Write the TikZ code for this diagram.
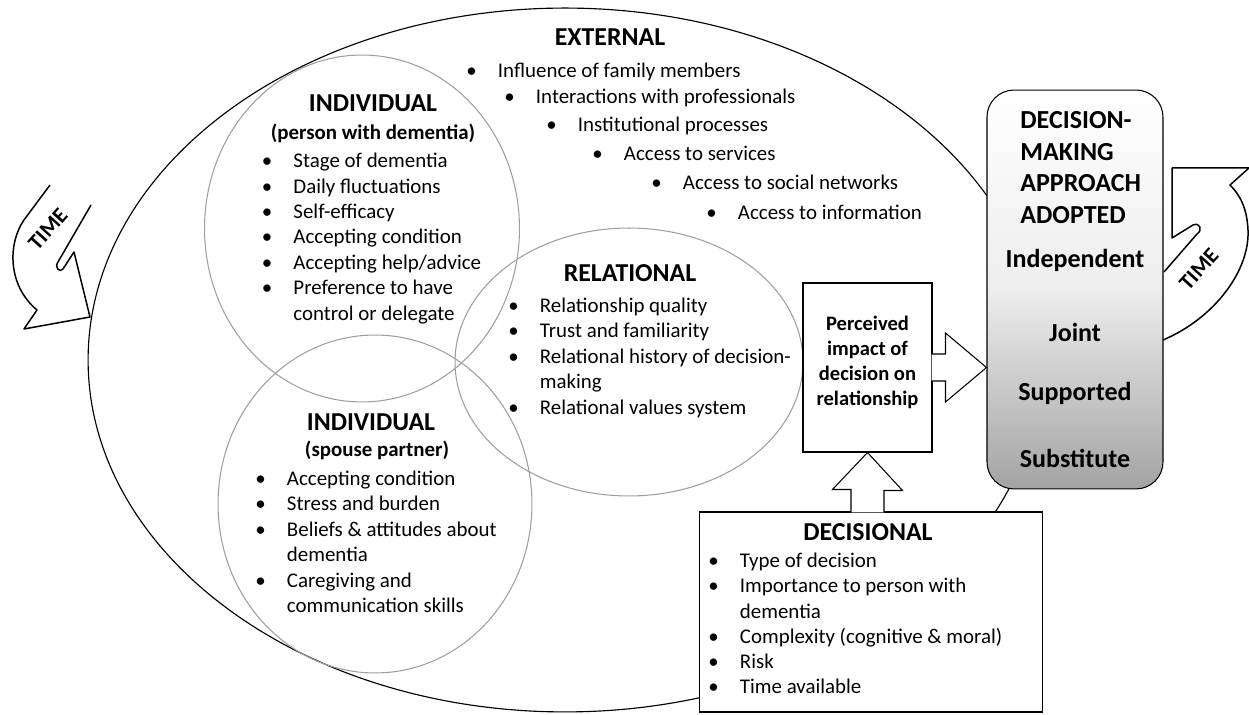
\documentclass[tikz,border=0pt]{standalone}
\usepackage{fontspec}
\setmainfont{Carlito}
\usetikzlibrary{shapes.geometric, calc, positioning}

\newcommand{\lstfont}{\fontsize{11.9}{14.5}\selectfont}
\newcommand{\headfont}{\fontsize{14.7}{17}\selectfont\bfseries}
\newcommand{\subfont}{\fontsize{11.9}{14.5}\selectfont\bfseries}
\newcommand{\bl}{\makebox[18pt][l]{\textbullet}}
\newcommand{\nb}{\hspace*{18pt}}

\tikzset{
  ring/.style={draw=black!38, line width=0.6pt, ellipse, inner sep=0pt},
  head/.style={font=\headfont, inner sep=0pt},
  sub/.style={font=\subfont, inner sep=0pt},
  lst/.style={font=\lstfont, align=left, inner sep=0pt, anchor=west},
  box/.style={draw, line width=0.6pt, fill=white, inner sep=0pt},
  blockarrow/.style={draw, line width=0.6pt, fill=white},
  timearrow/.style={draw, line width=0.85pt, line join=round},
  timetxt/.style={font=\fontsize{12.5}{14}\selectfont\bfseries, inner sep=0pt},
  choice/.style={font=\fontsize{14.8}{18}\selectfont\bfseries, inner sep=0pt}
}

\begin{document}
\begin{tikzpicture}[x=0.02cm, y=-0.02cm]
  \useasboundingbox (0,0) rectangle (1249,715);

  % fields
  \node[draw, line width=0.65pt, ellipse, inner sep=0pt, minimum width=19.08cm, minimum height=14.08cm] (external) at (565,360) {};
  \node[ring, minimum width=6.3cm, minimum height=6.94cm] (person) at (362,228.5) {};
  \node[ring, minimum width=6.28cm, minimum height=6.76cm] (spouse) at (375,504) {};
  \node[ring, minimum width=6.96cm, minimum height=5.36cm] (relational) at (629,362) {};

  % boxes
  \node[draw, line width=0.6pt, inner sep=0pt, rounded corners=0.54cm, top color=white, bottom color=black!36, middle color=black!7, minimum width=3.52cm, minimum height=7.98cm] (approach) at (1075,289.5) {};
  \node[box, minimum width=2.58cm, minimum height=3.38cm] (perceived) at (867.5,367.5) {};
  \node[box, minimum width=6.88cm, minimum height=4cm] (decisional) at (871,612) {};

  % block arrows
  \draw[blockarrow] ($(perceived.east)+(-1,-13.5)$) -- ++(14,0) -- ++(0,-21) -- (approach.west |- perceived.east)
    -- ($(perceived.east)+(13,34.5)$) -- ++(0,-21) -- ($(perceived.east)+(-1,13.5)$);
  \draw[blockarrow] ($(perceived.south |- decisional.north)+(-16.5,1)$) -- ++(0,-23) -- ++(-18.5,0) -- (perceived.south)
    -- ($(perceived.south)+(35,38)$) -- ++(-18.5,0) -- ($(perceived.south |- decisional.north)+(16.5,1)$);

  % time arrows
  \draw[timearrow] (50,185) -- (24,220) .. controls (8,243) and (7,285) .. (37,310) -- (24,329) -- (90,317)
    -- (74,252) -- (63,269) .. controls (60,273) and (54,268) .. (58,262) -- (91,205);
  \draw[timearrow] (1163,340) .. controls (1215,318) and (1250,270) .. (1248,230) .. controls (1247,208) and (1240,195) .. (1230,185)
    -- (1249,168) -- (1172,168) -- (1172,238) -- (1193,225) .. controls (1200,222) and (1203,230) .. (1197,234) -- (1164,272);
  \node[timetxt, rotate=48] (timeleft) at (48,229) {TIME};
  \node[timetxt, rotate=48] (timeright) at (1199,269) {TIME};

  % external
  \node[head] (exthead) at (610,37) {EXTERNAL};
  \foreach \x/\y/\t [count=\i] in {466/72/Influence of family members, 504/98/Interactions with professionals,
      546/126/Institutional processes, 592/153/Access to services, 651/182/Access to social networks,
      706/212/Access to information}
    \node[lst] (ext\i) at (\x,\y) {\bl\t};

  % individual, person with dementia
  \node[head] (personhead) at (373,103) {INDIVIDUAL};
  \node[sub] (personsub) at (373,133) {(person with dementia)};
  \node[lst] (personlist) at (261.5,238.5) {\bl Stage of dementia\\ \bl Daily fluctuations\\ \bl Self-efficacy\\
    \bl Accepting condition\\ \bl Accepting help/advice\\ \bl Preference to have\\ \nb control or delegate};

  % individual, spouse
  \node[head] (spousehead) at (371,422) {INDIVIDUAL};
  \node[sub] (spousesub) at (377,450) {(spouse partner)};
  \node[lst] (spouselist) at (255,541.7) {\bl Accepting condition\\ \bl Stress and burden\\ \bl Beliefs \& attitudes about\\
    \nb dementia\\ \bl Caregiving and\\ \nb communication skills};

  % relational
  \node[head] (relhead) at (630,273) {RELATIONAL};
  \node[lst] (rellist) at (508,357.5) {\bl Relationship quality\\ \bl Trust and familiarity\\ \bl Relational history of decision-\\
    \nb making\\ \bl Relational values system};

  % perceived impact
  \node[font=\fontsize{11.7}{14.2}\selectfont\bfseries, align=center, inner sep=0pt] (perctext) at (867.5,362.5)
    {Perceived\\impact of\\decision on\\relationship};

  % decisional
  \node[head] (dechead) at (868,532) {DECISIONAL};
  \node[lst, font=\fontsize{11.9}{14.4}\selectfont] (declist) at (708,623.5) {\bl Type of decision\\ \bl Importance to person with\\
    \nb dementia\\ \bl Complexity (cognitive \& moral)\\ \bl Risk\\ \bl Time available};

  % approach adopted
  \node[choice, align=left, anchor=west] (dmtitle) at (1020,167.5) {DECISION-\\MAKING\\APPROACH\\ADOPTED};
  \node[choice] (indep) at (1075,260) {Independent};
  \node[choice] (joint) at (1075,332) {Joint};
  \node[choice] (supp) at (1075,393) {Supported};
  \node[choice] (subst) at (1075,458) {Substitute};
\end{tikzpicture}
\end{document}
